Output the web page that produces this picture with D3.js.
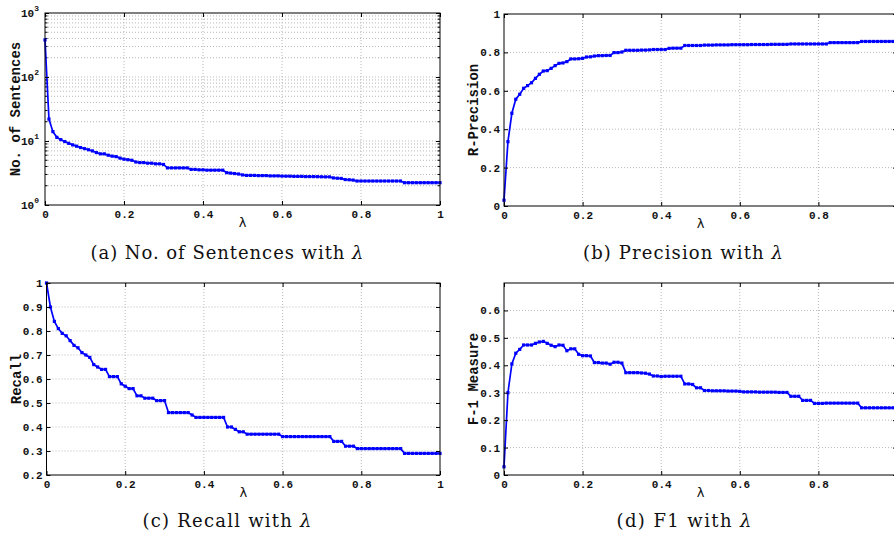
<!DOCTYPE html>
<html><head><meta charset="utf-8">
<script src="https://cdn.jsdelivr.net/npm/d3@7"></script>
<style>body{margin:0;background:#fff}</style>
</head><body><svg id="chart" width="894" height="538"></svg>
<script>
const lambda = [0,0.01,0.02,0.03,0.04,0.05,0.06,0.07,0.08,0.09,
0.1,0.11,0.12,0.13,0.14,0.15,0.16,0.17,0.18,0.19,
0.2,0.21,0.22,0.23,0.24,0.25,0.26,0.27,0.28,0.29,
0.3,0.31,0.32,0.33,0.34,0.35,0.36,0.37,0.38,0.39,
0.4,0.41,0.42,0.43,0.44,0.45,0.46,0.47,0.48,0.49,
0.5,0.51,0.52,0.53,0.54,0.55,0.56,0.57,0.58,0.59,
0.6,0.61,0.62,0.63,0.64,0.65,0.66,0.67,0.68,0.69,
0.7,0.71,0.72,0.73,0.74,0.75,0.76,0.77,0.78,0.79,
0.8,0.81,0.82,0.83,0.84,0.85,0.86,0.87,0.88,0.89,
0.9,0.91,0.92,0.93,0.94,0.95,0.96,0.97,0.98,0.99,1.0];

const sentences = [380,22,14,11.4,10.5,9.8,9.2,8.7,8.3,7.9,
7.6,7.3,7.0,6.6,6.3,6.3,6.0,5.8,5.7,5.4,
5.2,5.1,5.0,4.7,4.6,4.6,4.5,4.5,4.4,4.4,
4.3,3.8,3.8,3.8,3.8,3.8,3.8,3.6,3.6,3.55,
3.55,3.5,3.5,3.5,3.5,3.5,3.2,3.15,3.1,3.05,
2.95,2.9,2.9,2.9,2.88,2.88,2.88,2.85,2.85,2.85,
2.83,2.82,2.82,2.8,2.8,2.8,2.78,2.78,2.78,2.77,
2.76,2.75,2.75,2.65,2.62,2.6,2.5,2.48,2.45,2.37,
2.37,2.37,2.37,2.37,2.37,2.37,2.37,2.37,2.37,2.37,
2.37,2.23,2.23,2.23,2.23,2.23,2.23,2.23,2.23,2.23,2.23];

const precision = [0.03,0.335,0.483,0.556,0.582,0.613,0.627,0.642,0.665,0.686,
0.703,0.705,0.717,0.731,0.743,0.745,0.752,0.766,0.766,0.767,
0.769,0.776,0.777,0.781,0.783,0.783,0.784,0.784,0.799,0.799,
0.802,0.811,0.811,0.811,0.811,0.812,0.812,0.813,0.815,0.815,
0.815,0.815,0.821,0.822,0.822,0.822,0.836,0.836,0.836,0.836,
0.836,0.838,0.838,0.838,0.839,0.839,0.839,0.839,0.840,0.840,
0.840,0.840,0.840,0.841,0.841,0.841,0.841,0.841,0.842,0.842,
0.842,0.842,0.842,0.844,0.844,0.844,0.844,0.844,0.844,0.844,
0.844,0.844,0.844,0.851,0.851,0.851,0.851,0.851,0.851,0.851,
0.851,0.857,0.857,0.857,0.857,0.857,0.857,0.857,0.857,0.857,0.857];

const recall = [1.0,0.90,0.84,0.81,0.79,0.78,0.76,0.74,0.73,0.71,
0.70,0.69,0.66,0.65,0.64,0.64,0.61,0.61,0.61,0.58,
0.57,0.56,0.56,0.53,0.53,0.52,0.52,0.52,0.51,0.51,
0.51,0.46,0.46,0.46,0.46,0.46,0.46,0.45,0.44,0.44,
0.44,0.44,0.44,0.44,0.44,0.44,0.40,0.40,0.39,0.38,
0.38,0.37,0.37,0.37,0.37,0.37,0.37,0.37,0.37,0.37,
0.36,0.36,0.36,0.36,0.36,0.36,0.36,0.36,0.36,0.36,
0.36,0.36,0.36,0.34,0.34,0.34,0.32,0.32,0.32,0.31,
0.31,0.31,0.31,0.31,0.31,0.31,0.31,0.31,0.31,0.31,
0.31,0.29,0.29,0.29,0.29,0.29,0.29,0.29,0.29,0.29,0.29];

const f1 = [0.03,0.30,0.405,0.444,0.458,0.474,0.474,0.474,0.48,0.485,
0.487,0.48,0.473,0.468,0.474,0.473,0.453,0.46,0.46,0.44,
0.435,0.435,0.434,0.41,0.41,0.408,0.408,0.404,0.411,0.411,
0.408,0.373,0.373,0.373,0.373,0.372,0.371,0.368,0.361,0.361,
0.359,0.36,0.36,0.36,0.36,0.36,0.332,0.332,0.33,0.318,
0.318,0.308,0.308,0.307,0.307,0.307,0.307,0.306,0.306,0.306,
0.305,0.303,0.303,0.303,0.303,0.302,0.302,0.302,0.302,0.302,
0.301,0.301,0.301,0.287,0.287,0.287,0.272,0.272,0.272,0.261,
0.261,0.261,0.262,0.262,0.262,0.262,0.262,0.262,0.262,0.262,
0.262,0.245,0.245,0.245,0.245,0.245,0.245,0.245,0.245,0.245,0.245];

const xTicks = [0,0.2,0.4,0.6,0.8,1];
const xTickLabels = ["0","0.2","0.4","0.6","0.8","1"];
const logTicks = [1,10,100,1000];
const logExponents = ["0","1","2","3"];
const precisionTicks = [0,0.2,0.4,0.6,0.8,1];
const precisionTickLabels = ["0","0.2","0.4","0.6","0.8","1"];
const recallTicks = [0.2,0.3,0.4,0.5,0.6,0.7,0.8,0.9,1];
const recallTickLabels = ["0.2","0.3","0.4","0.5","0.6","0.7","0.8","0.9","1"];
const f1Ticks = [0,0.1,0.2,0.3,0.4,0.5,0.6];
const f1TickLabels = ["0","0.1","0.2","0.3","0.4","0.5","0.6"];

const svg = d3.select('#chart');
svg.append('rect').attr('width',894).attr('height',538).attr('fill','#fff');

const panels = [
 {box:[45,13,440,205], values:sentences, log:true, yDomain:[1,1000], yTicks:logTicks,
  yLabels:logExponents, yTitle:'No. of Sentences', titleX:15, caption:'(a) No. of Sentences with ', capX:227, capY:259, capW:273},
 {box:[504,14,897,206], values:precision, yDomain:[0,1], yTicks:precisionTicks,
  yLabels:precisionTickLabels, yTitle:'R-Precision', titleX:473, caption:'(b) Precision with ', capX:683, capY:259, capW:200},
 {box:[46.5,283,440,475], values:recall, yDomain:[0.2,1], yTicks:recallTicks,
  yLabels:recallTickLabels, yTitle:'Recall', titleX:16, caption:'(c) Recall with ', capX:227, capY:527, capW:169},
 {box:[504,283,897,475], values:f1, yDomain:[0,0.7], yTicks:f1Ticks,
  yLabels:f1TickLabels, yTitle:'F-1 Measure', titleX:473, caption:'(d) F1 with ', capX:684, capY:527, capW:135}
];

const tickFont = "'Liberation Mono', 'Courier New', monospace";
const gridColor = '#b8b8b8';

panels.forEach(p => {
  const [x0,y0,x1,y1] = p.box;
  const x = d3.scaleLinear().domain([0,1]).range([x0,x1]);
  const y = (p.log ? d3.scaleLog() : d3.scaleLinear()).domain(p.yDomain).range([y1,y0]);
  const g = svg.append('g');

  if (p.log) {
    const minor = [];
    [1,10,100].forEach(dec => { for (let m=2;m<=9;m++) minor.push(dec*m); });
    g.selectAll('.mg').data(minor).enter().append('line')
      .attr('x1',x0).attr('x2',x1).attr('y1',d=>y(d)).attr('y2',d=>y(d))
      .attr('stroke',gridColor).attr('stroke-width',1).attr('stroke-dasharray','1,2');
    g.selectAll('.mt').data(minor).enter().append('line')
      .attr('x1',x0).attr('x2',x0+2.5).attr('y1',d=>y(d)).attr('y2',d=>y(d))
      .attr('stroke','#000');
    g.selectAll('.mt2').data(minor).enter().append('line')
      .attr('x1',x1-2.5).attr('x2',x1).attr('y1',d=>y(d)).attr('y2',d=>y(d))
      .attr('stroke','#000');
  }
  g.selectAll('.gx').data(xTicks.slice(1,-1)).enter().append('line')
    .attr('x1',d=>x(d)).attr('x2',d=>x(d)).attr('y1',y0).attr('y2',y1)
    .attr('stroke',gridColor).attr('stroke-dasharray','1,2');
  g.selectAll('.gy').data(p.yTicks.filter(v => v!==p.yDomain[0] && v!==p.yDomain[1])).enter().append('line')
    .attr('x1',x0).attr('x2',x1).attr('y1',d=>y(d)).attr('y2',d=>y(d))
    .attr('stroke',gridColor).attr('stroke-dasharray','1,2');

  const pts = lambda.map((l,i)=>[l,p.values[i]]);
  g.append('path').datum(pts)
    .attr('d', d3.line().x(d=>x(d[0])).y(d=>y(d[1])))
    .attr('fill','none').attr('stroke','#0000ff').attr('stroke-width',1.7);
  g.selectAll('.pt').data(pts).enter().append('rect')
    .attr('x',d=>x(d[0])-1.6).attr('y',d=>y(d[1])-1.6)
    .attr('width',3.2).attr('height',3.2).attr('fill','#0000ff');

  // labels only for ticks that fit inside the 894px picture
  const bottom = d3.axisBottom(x).tickValues(xTicks).tickSize(-4).tickPadding(5)
    .tickFormat((d,i)=> x(d) + 8 <= 894 ? xTickLabels[i] : '');
  const top = d3.axisTop(x).tickValues(xTicks).tickSize(-4).tickFormat('');
  const left = d3.axisLeft(y).tickValues(p.yTicks).tickSize(-4).tickPadding(4)
    .tickFormat((d,i)=> p.log ? '' : p.yLabels[i]);
  const right = d3.axisRight(y).tickValues(p.yTicks).tickSize(-4).tickFormat('');

  const styleAxis = sel => {
    sel.select('.domain').remove();
    sel.selectAll('line').attr('stroke','#000');
    sel.selectAll('text').attr('font-family',tickFont).attr('font-weight','bold')
      .attr('font-size',11).attr('fill','#111');
  };
  g.append('g').attr('transform',`translate(0,${y1})`).call(bottom).call(styleAxis);
  g.append('g').attr('transform',`translate(0,${y0})`).call(top).call(styleAxis);
  g.append('g').attr('transform',`translate(${x0},0)`).call(left).call(styleAxis);
  g.append('g').attr('transform',`translate(${x1},0)`).call(right).call(styleAxis);

  if (p.log) {
    const lt = g.selectAll('.ll').data(p.yTicks).enter().append('text')
      .attr('x',x0-6).attr('y',d=>y(d)+4)
      .attr('text-anchor','end').attr('font-family',tickFont).attr('font-weight','bold')
      .attr('font-size',11).attr('fill','#111');
    lt.append('tspan').text('10');
    lt.append('tspan').attr('dy',-6).attr('font-size',8).text((d,i)=>p.yLabels[i]);
  }

  g.append('rect').attr('x',x0).attr('y',y0).attr('width',x1-x0).attr('height',y1-y0)
    .attr('fill','none').attr('stroke','#000').attr('stroke-width',1);

  g.append('text').attr('x',(x0+x1)/2).attr('y',y1+22)
    .attr('text-anchor','middle').attr('font-family','DejaVu Sans, sans-serif')
    .attr('font-size',13).attr('fill','#111').text('λ');
  g.append('text').attr('transform',`translate(${p.titleX},${(y0+y1)/2}) rotate(-90)`)
    .attr('text-anchor','middle').attr('dy','0.35em')
    .attr('font-family',tickFont).attr('font-weight','bold').attr('font-size',14)
    .attr('fill','#111').text(p.yTitle);

  const cap = svg.append('text').attr('x',p.capX - p.capW/2).attr('y',p.capY)
    .attr('font-family',"'DejaVu Serif', 'Liberation Serif', serif")
    .attr('font-size',18).attr('fill','#111')
    .attr('textLength',p.capW).attr('lengthAdjust','spacing');
  cap.append('tspan').text(p.caption);
  cap.append('tspan').attr('font-style','italic').text('λ');
});
</script></body></html>
